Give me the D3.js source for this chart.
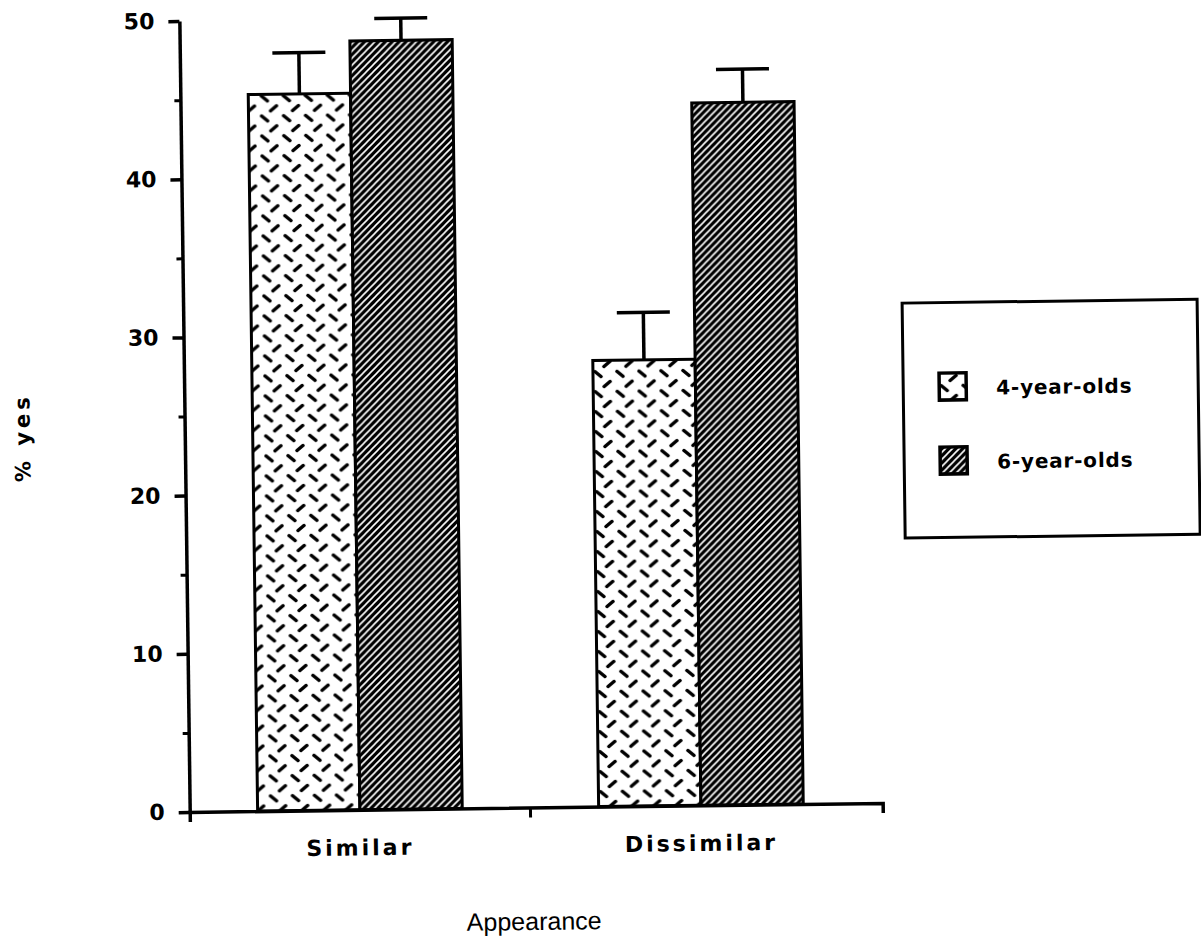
<!DOCTYPE html>
<html>
<head>
<meta charset="utf-8">
<script src="https://cdn.jsdelivr.net/npm/d3@7"></script>
<style>
body { margin: 0; background: #fff; }
text { font-family: "Liberation Sans", Arial, sans-serif; fill: #000; }
.bold { font-family: "DejaVu Sans", sans-serif; font-weight: bold; }
</style>
</head>
<body>
<div id="chart"></div>
<script>
//data
const groups = ["Similar", "Dissimilar"];
const ages = ["4-year-olds", "6-year-olds"];
const means4 = [45.3, 28.2];
const means6 = [48.6, 44.4];
const errors4 = [2.6, 3.0];
const errors6 = [1.4, 2.1];
const yTicks = [0, 10, 20, 30, 40, 50];
const yMinorTicks = [5, 15, 25, 35, 45];

const data = [];
groups.forEach((g, i) => {
    data.push({group: g, age: ages[0], mean: means4[i], err: errors4[i]});
    data.push({group: g, age: ages[1], mean: means6[i], err: errors6[i]});
});

//initialization
const width = 1201, height = 940;
const svg = d3.select("#chart")
                .append("svg")
                .attr("width", width)
                .attr("height", height);

const defs = svg.append("defs");

//dashed pattern for 4-year-olds
const dash = defs.append("pattern")
                .attr("id", "dash")
                .attr("patternUnits", "userSpaceOnUse")
                .attr("width", 22)
                .attr("height", 20);
dash.append("rect").attr("width", 22).attr("height", 20).attr("fill", "#fff");
dash.append("path")
    .attr("d", "M11,7.5L17,2.5M2,12.5L8,17.5")
    .attr("stroke", "#000")
    .attr("stroke-width", 3.5)
    .attr("stroke-linecap", "round");

//hatch pattern for 6-year-olds
const hatch = defs.append("pattern")
                .attr("id", "hatch")
                .attr("patternUnits", "userSpaceOnUse")
                .attr("width", 7)
                .attr("height", 7);
hatch.append("rect").attr("width", 7).attr("height", 7).attr("fill", "#000");
hatch.append("path")
    .attr("d", "M-1,1L1,-1M0,7L7,0M6,8L8,6")
    .attr("stroke", "#fff")
    .attr("stroke-width", 1.6);

const fill = d3.scaleOrdinal()
                .domain(ages)
                .range(["url(#dash)", "url(#hatch)"]);

//the scanned figure is slightly tilted
const g = svg.append("g")
            .attr("transform", "rotate(-0.75,530,450)");

//scales
const x0 = d3.scaleBand()
                .domain(groups)
                .range([185, 878])
                .paddingInner(0.4)
                .paddingOuter(0.216)
                .align(0.461);

const x1 = d3.scaleBand()
                .domain(ages)
                .range([0, x0.bandwidth()]);

const y = d3.scaleLinear()
                .domain([0, 50])
                .range([807.5, 16.5]);

//bars
g.selectAll(".bar")
    .data(data)
    .enter()
    .append("rect")
    .attr("class", "bar")
    .attr("x", d => x0(d.group) + x1(d.age))
    .attr("y", d => y(d.mean))
    .attr("width", x1.bandwidth())
    .attr("height", d => y(0) - y(d.mean))
    .attr("fill", d => fill(d.age))
    .attr("stroke", "#000")
    .attr("stroke-width", 3);

//error bars
const capW = 53;
const errs = g.selectAll(".err")
    .data(data)
    .enter()
    .append("g")
    .attr("class", "err")
    .attr("stroke", "#000")
    .attr("stroke-width", 3.5);

errs.append("line")
    .attr("x1", d => x0(d.group) + x1(d.age) + x1.bandwidth() / 2)
    .attr("x2", d => x0(d.group) + x1(d.age) + x1.bandwidth() / 2)
    .attr("y1", d => y(d.mean))
    .attr("y2", d => y(d.mean + d.err));

errs.append("line")
    .attr("x1", d => x0(d.group) + x1(d.age) + x1.bandwidth() / 2 - capW / 2)
    .attr("x2", d => x0(d.group) + x1(d.age) + x1.bandwidth() / 2 + capW / 2)
    .attr("y1", d => y(d.mean + d.err))
    .attr("y2", d => y(d.mean + d.err));

//axes
const yAxis = g.append("g")
    .attr("transform", `translate(${x0.range()[0]},0)`)
    .call(d3.axisLeft(y).tickValues(yTicks).tickSize(11).tickSizeOuter(0).tickPadding(14));

g.append("g")
    .attr("transform", `translate(${x0.range()[0]},0)`)
    .call(d3.axisLeft(y).tickValues(yMinorTicks).tickSize(6).tickFormat(""))
    .call(a => a.select(".domain").remove())
    .selectAll("line").attr("stroke-width", 3);

const xAxis = g.append("g")
    .attr("transform", `translate(0,${y(0)})`)
    .call(d3.axisBottom(x0).tickSizeInner(0).tickSizeOuter(10).tickPadding(30));

//tick between the two groups
const mid = (x0(groups[0]) + x0.bandwidth() + x0(groups[1])) / 2;
xAxis.append("line")
    .attr("x1", mid).attr("x2", mid)
    .attr("y1", 0).attr("y2", 10)
    .attr("stroke", "#000")
    .attr("stroke-width", 3);

[yAxis, xAxis].forEach(a => {
    a.select(".domain").attr("stroke-width", 3.5);
    a.selectAll(".tick line").attr("stroke-width", 3.5);
    a.selectAll("text")
        .attr("class", "bold")
        .style("font-size", "22px");
});
xAxis.selectAll("text").style("letter-spacing", "3px");

//axis titles
g.append("text")
    .attr("x", 528)
    .attr("y", 930)
    .attr("text-anchor", "middle")
    .style("font-size", "25px")
    .text("Appearance");

g.append("text")
    .attr("class", "bold")
    .attr("transform", "translate(30,431) rotate(-90)")
    .attr("text-anchor", "middle")
    .style("font-size", "21px")
    .style("letter-spacing", "4px")
    .text("% yes");

//legend
const legend = g.append("g");
legend.append("rect")
    .attr("x", 904)
    .attr("y", 308)
    .attr("width", 295)
    .attr("height", 235)
    .attr("fill", "#fff")
    .attr("stroke", "#000")
    .attr("stroke-width", 3);

const items = legend.selectAll(".item")
    .data(ages)
    .enter()
    .append("g")
    .attr("class", "item")
    .attr("transform", (d, i) => `translate(940,${378.5 + i * 74})`);

items.append("rect")
    .attr("width", 27)
    .attr("height", 27)
    .attr("fill", d => fill(d))
    .attr("stroke", "#000")
    .attr("stroke-width", 3.5);

items.append("text")
    .attr("class", "bold")
    .attr("x", 57)
    .attr("y", 22)
    .style("font-size", "20px")
    .style("letter-spacing", "0.8px")
    .text(d => d);
</script>
</body>
</html>
